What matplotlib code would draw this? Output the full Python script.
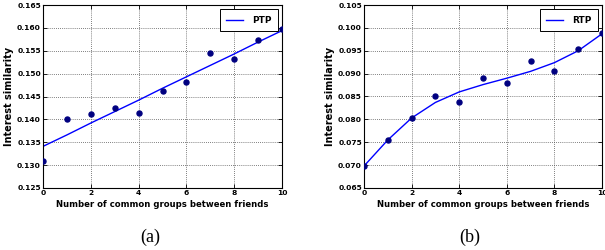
import matplotlib
matplotlib.use("Agg")
import matplotlib.pyplot as plt

x_groups = [0, 1, 2, 3, 4, 5, 6, 7, 8, 9, 10]

# (a) PTP
ptp_points = [0.1310, 0.1400, 0.1412, 0.1425, 0.1413, 0.1463, 0.1482, 0.1546, 0.1532, 0.1574, 0.1597]
ptp_fit = [0.1341, 0.1366, 0.1392, 0.1417, 0.1442, 0.1468, 0.1493, 0.1518, 0.1543, 0.1569, 0.1594]

# (b) RTP
rtp_points = [0.0698, 0.0755, 0.0804, 0.0851, 0.0837, 0.0891, 0.0880, 0.0927, 0.0906, 0.0954, 0.0988]
rtp_fit = [0.0698, 0.0755, 0.0803, 0.0837, 0.0860, 0.0876, 0.0890, 0.0905, 0.0924, 0.0950, 0.0987]

ptp_ticks = [0.125, 0.130, 0.135, 0.140, 0.145, 0.150, 0.155, 0.160, 0.165]
rtp_ticks = [0.065, 0.070, 0.075, 0.080, 0.085, 0.090, 0.095, 0.100, 0.105]

fig = plt.figure(figsize=(6.05, 2.5), dpi=100)
W, H = 605, 250
panels = [
    ((43, 282), ptp_points, ptp_fit, ptp_ticks, "PTP", "(a)", 150),
    ((364, 602), rtp_points, rtp_fit, rtp_ticks, "RTP", "(b)", 470),
]
for (x0, x1), pts, fit, yt, name, cap, cx in panels:
    ax = fig.add_axes([x0 / W, 1 - 188 / H, (x1 - x0) / W, 183 / H])
    ax.plot(x_groups, fit, color="blue", lw=1.0, label=name)
    ax.plot(x_groups, pts, "o", color="#000080", ms=3.6, mec="#000080", zorder=3)
    ax.set_xlim(0, 10)
    ax.set_ylim(yt[0], yt[-1])
    ax.set_xticks([0, 2, 4, 6, 8, 10])
    ax.set_yticks(yt)
    ax.set_yticklabels([f"{v:.3f}" for v in yt])
    ax.grid(True, color="#555555", linestyle=(0, (1, 1.5)), lw=0.6)
    ax.tick_params(direction="in", length=3, width=0.6, labelsize=5.4, pad=1.5,
                   top=True, right=True)
    for lab in ax.get_xticklabels() + ax.get_yticklabels():
        lab.set_fontweight("bold")
    for sp in ax.spines.values():
        sp.set_linewidth(0.8)
    ax.set_xlabel("Number of common groups between friends", fontsize=6.1,
                  fontweight="bold", labelpad=3)
    ax.set_ylabel("Interest similarity", fontsize=7, fontweight="bold", labelpad=2)
    leg = ax.legend(loc="upper right", prop={"size": 6.4, "weight": "bold"},
                    fancybox=False, framealpha=1, edgecolor="black",
                    handlelength=1.9, handletextpad=1.0, borderpad=0.7,
                    borderaxespad=0.5)
    leg.get_frame().set_linewidth(0.7)
    fig.text(cx / W, 1 - 237 / H, cap, ha="center", va="center",
             family="Liberation Serif", fontsize=13)

fig.savefig("out.png", dpi=100)
